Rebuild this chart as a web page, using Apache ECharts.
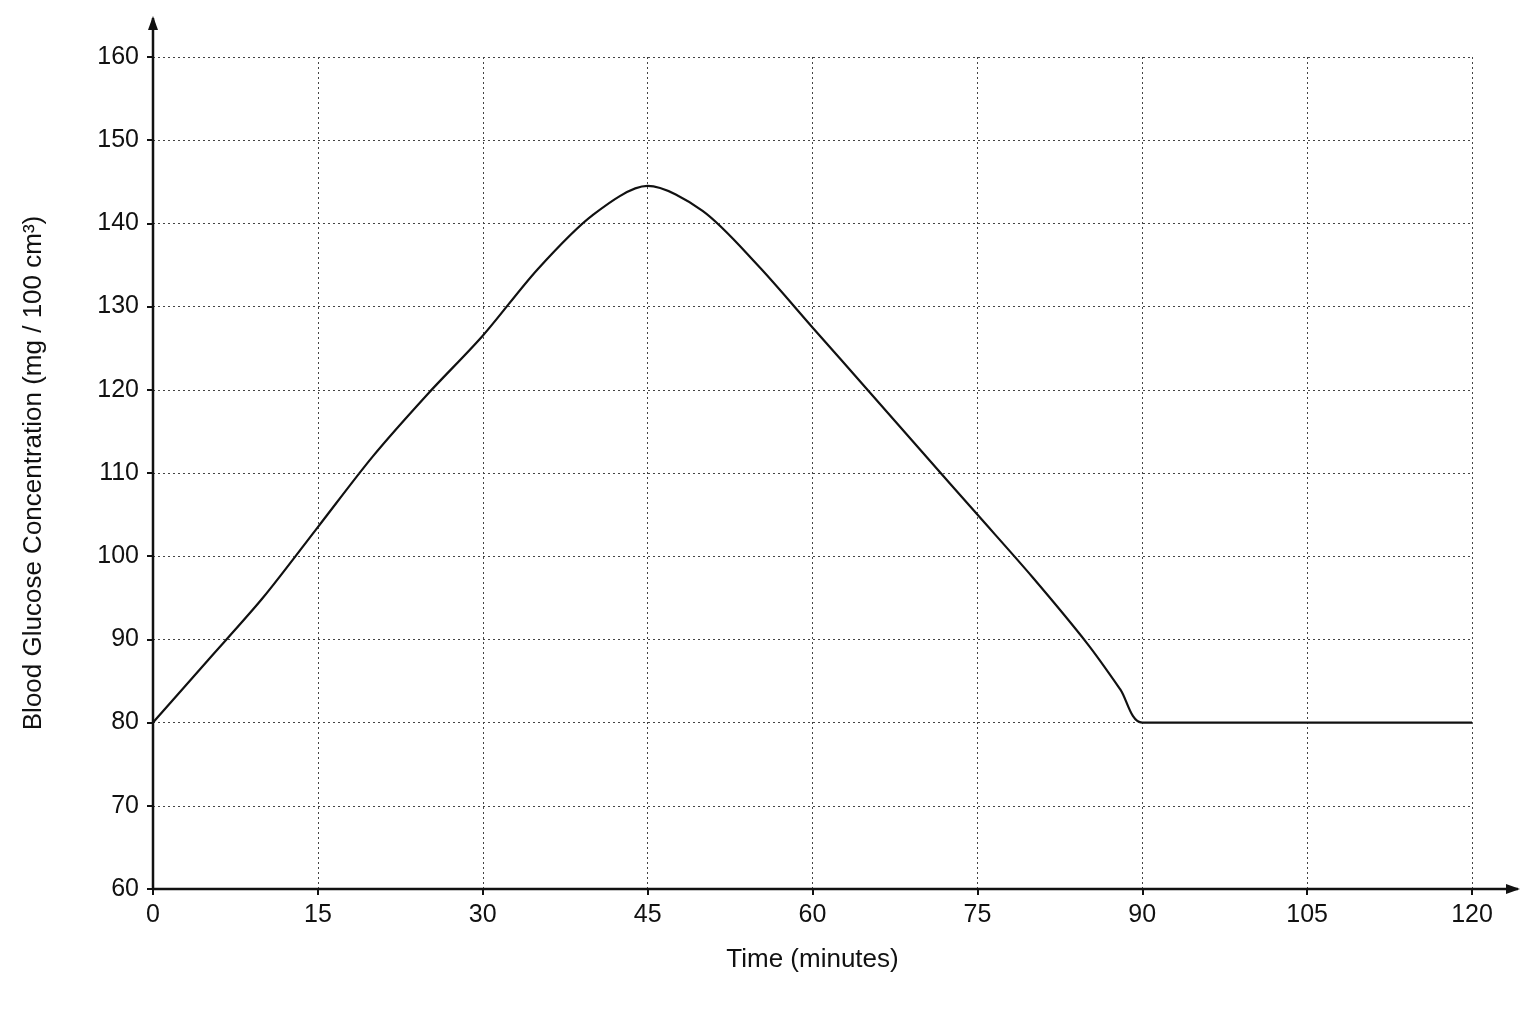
<!DOCTYPE html>
<html><head><meta charset="utf-8">
<script src="https://cdn.jsdelivr.net/npm/echarts@6/dist/echarts.min.js"></script>
<style>html,body{margin:0;background:#fff}#c{width:1536px;height:1024px}</style>
</head><body><div id="c"></div>
<script>
const times = [0,5,10,15,20,25,30,35,40,45,50,55,60,65,70,75,80,85,88,90,120];
const glucose = [80,87.5,95,103.5,112,119.5,126.5,134.5,141,144.5,141.5,135,127.5,120,112.5,105,97.5,89.5,84,80,80];
const xTicks = {min:0,max:120,interval:15};
const yTicks = {min:60,max:160,interval:10};
const font = 'Liberation Sans, Arial, sans-serif';
const chart = echarts.init(document.getElementById('c'));
chart.setOption({
  animation:false,
  grid:{left:153,right:64,top:57,bottom:135},
  xAxis:{type:'value',min:xTicks.min,max:xTicks.max,interval:xTicks.interval,
    name:'Time (minutes)',nameLocation:'middle',nameGap:58,
    nameTextStyle:{fontFamily:font,fontSize:26,color:'#111'},
    axisLine:{show:false},axisTick:{show:true,length:6,lineStyle:{color:'#111',width:2}},
    axisLabel:{fontFamily:font,fontSize:25,color:'#111',margin:14},
    splitLine:{show:true,lineStyle:{type:[2,3],color:'#444',width:1}}},
  yAxis:{type:'value',min:yTicks.min,max:yTicks.max,interval:yTicks.interval,
    name:'Blood Glucose Concentration (mg / 100 cm³)',nameLocation:'middle',nameGap:106,
    nameTextStyle:{fontFamily:font,fontSize:26,color:'#111'},
    axisLine:{show:false},axisTick:{show:true,length:6,lineStyle:{color:'#111',width:2}},
    axisLabel:{fontFamily:font,fontSize:25,color:'#111',margin:14},
    splitLine:{show:true,lineStyle:{type:[2,3],color:'#444',width:1}}},
  series:[{type:'line',data:times.map((t,i)=>[t,glucose[i]]),smooth:0.3,symbol:'none',
    lineStyle:{color:'#111',width:2.2}}]
});
const o = chart.convertToPixel({gridIndex:0},[0,60]);
const xe = chart.convertToPixel({gridIndex:0},[120,60])[0]+46;
const ye = chart.convertToPixel({gridIndex:0},[0,160])[1]-39;
chart.setOption({graphic:[
  {type:'line',shape:{x1:o[0],y1:o[1],x2:xe,y2:o[1]},style:{stroke:'#111',lineWidth:2.5}},
  {type:'line',shape:{x1:o[0],y1:o[1],x2:o[0],y2:ye},style:{stroke:'#111',lineWidth:2.5}},
  {type:'polygon',shape:{points:[[xe+2,o[1]],[xe-12,o[1]-5],[xe-12,o[1]+5]]},style:{fill:'#111'}},
  {type:'polygon',shape:{points:[[o[0],ye-2],[o[0]-5,ye+12],[o[0]+5,ye+12]]},style:{fill:'#111'}}
]});
</script></body></html>
